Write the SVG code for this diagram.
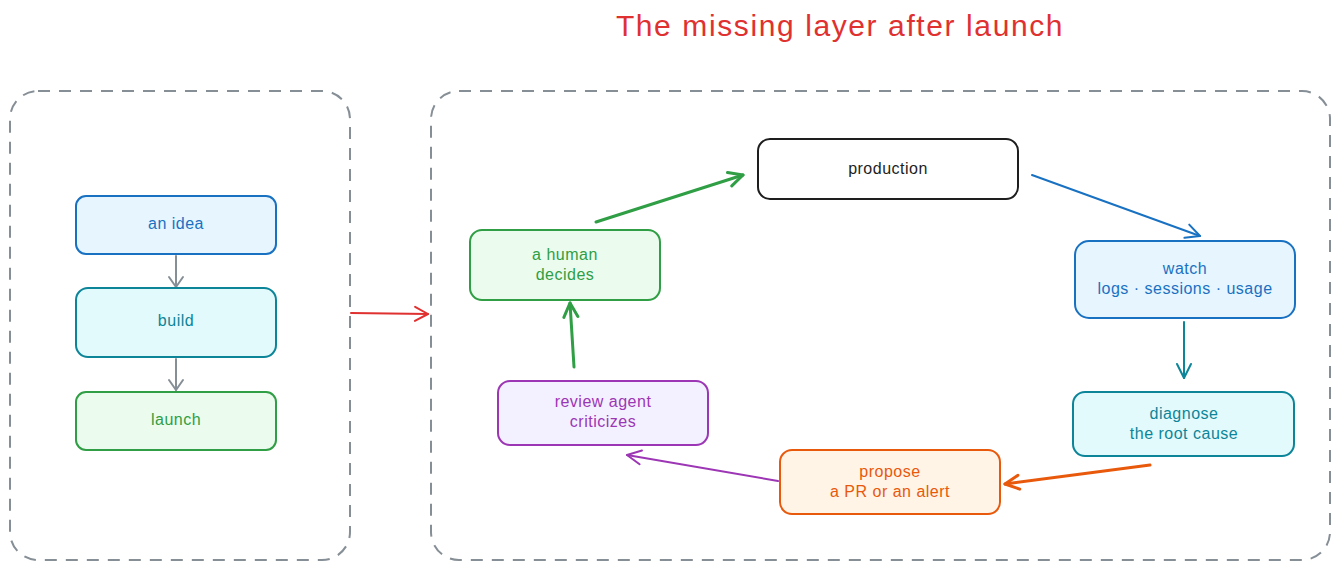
<svg xmlns="http://www.w3.org/2000/svg" width="1340" height="570" viewBox="0 0 1340 570">
<style>
text{font-family:"Liberation Sans",Arial,sans-serif;font-size:16px;letter-spacing:0.5px;text-anchor:middle;dominant-baseline:middle}
.box{stroke-width:2}
.frame{fill:none;stroke:#868e96;stroke-width:2;stroke-dasharray:12 9}
.c{fill:none;stroke-linecap:round}
</style>
<defs>
<marker id="mGray" viewBox="-16 -9 18 18" refX="0" refY="0" markerWidth="18" markerHeight="18" markerUnits="userSpaceOnUse" orient="auto"><path d="M-10,-7 L0,0 L-10,7" fill="none" stroke="#868e96" stroke-width="2" stroke-linecap="round" stroke-linejoin="round"/></marker>
<marker id="mRed" viewBox="-16 -9 18 18" refX="0" refY="0" markerWidth="18" markerHeight="18" markerUnits="userSpaceOnUse" orient="auto"><path d="M-13,-7 L0,0 L-13,7" fill="none" stroke="#e03131" stroke-width="2" stroke-linecap="round" stroke-linejoin="round"/></marker>
<marker id="mGreen" viewBox="-16 -9 18 18" refX="0" refY="0" markerWidth="18" markerHeight="18" markerUnits="userSpaceOnUse" orient="auto"><path d="M-14,-7 L0,0 L-14,7" fill="none" stroke="#2f9e44" stroke-width="3" stroke-linecap="round" stroke-linejoin="round"/></marker>
<marker id="mBlue" viewBox="-16 -9 18 18" refX="0" refY="0" markerWidth="18" markerHeight="18" markerUnits="userSpaceOnUse" orient="auto"><path d="M-14,-7 L0,0 L-14,7" fill="none" stroke="#1971c2" stroke-width="2" stroke-linecap="round" stroke-linejoin="round"/></marker>
<marker id="mTeal" viewBox="-16 -9 18 18" refX="0" refY="0" markerWidth="18" markerHeight="18" markerUnits="userSpaceOnUse" orient="auto"><path d="M-14,-7 L0,0 L-14,7" fill="none" stroke="#0c8599" stroke-width="2" stroke-linecap="round" stroke-linejoin="round"/></marker>
<marker id="mOrange" viewBox="-16 -9 18 18" refX="0" refY="0" markerWidth="18" markerHeight="18" markerUnits="userSpaceOnUse" orient="auto"><path d="M-14,-7 L0,0 L-14,7" fill="none" stroke="#e8590c" stroke-width="3" stroke-linecap="round" stroke-linejoin="round"/></marker>
<marker id="mPurple" viewBox="-16 -9 18 18" refX="0" refY="0" markerWidth="18" markerHeight="18" markerUnits="userSpaceOnUse" orient="auto"><path d="M-14,-7 L0,0 L-14,7" fill="none" stroke="#9c36b5" stroke-width="2" stroke-linecap="round" stroke-linejoin="round"/></marker>
</defs>
<rect width="1340" height="570" fill="#ffffff"/>
<text x="840" y="28" style="font-size:30px;letter-spacing:1.6px;fill:#e03131">The missing layer after launch</text>
<g id="frames">
<rect class="frame" x="10" y="91" width="340" height="469" rx="28"/>
<rect class="frame" x="431" y="91" width="899" height="469" rx="28"/>
</g>
<g id="connectors">
<line class="c" x1="176" y1="256" x2="176" y2="287" stroke="#868e96" stroke-width="2" marker-end="url(#mGray)"/>
<line class="c" x1="176" y1="359" x2="176" y2="390" stroke="#868e96" stroke-width="2" marker-end="url(#mGray)"/>
<line class="c" x1="351" y1="313" x2="428" y2="314" stroke="#e03131" stroke-width="2" marker-end="url(#mRed)"/>
<line class="c" x1="596" y1="222" x2="743" y2="175" stroke="#2f9e44" stroke-width="3" marker-end="url(#mGreen)"/>
<line class="c" x1="1032" y1="175" x2="1200" y2="236" stroke="#1971c2" stroke-width="2" marker-end="url(#mBlue)"/>
<line class="c" x1="1184" y1="322" x2="1184" y2="378" stroke="#0c8599" stroke-width="2" marker-end="url(#mTeal)"/>
<line class="c" x1="1150" y1="465" x2="1005" y2="484" stroke="#e8590c" stroke-width="3" marker-end="url(#mOrange)"/>
<line class="c" x1="778" y1="481" x2="627" y2="455" stroke="#9c36b5" stroke-width="2" marker-end="url(#mPurple)"/>
<line class="c" x1="574" y1="367" x2="570" y2="303" stroke="#2f9e44" stroke-width="3" marker-end="url(#mGreen)"/>
</g>
<g id="idea">
<rect class="box" x="76" y="196" width="200" height="58" rx="10" fill="#e7f5ff" stroke="#1971c2"/>
<text x="176" y="225" fill="#1971c2">an idea</text>
</g>
<g id="build">
<rect class="box" x="76" y="288" width="200" height="69" rx="12" fill="#e3fafc" stroke="#0c8599"/>
<text x="176" y="322" fill="#0c8599">build</text>
</g>
<g id="launch">
<rect class="box" x="76" y="392" width="200" height="58" rx="10" fill="#ebfbee" stroke="#2f9e44"/>
<text x="176" y="421" fill="#2f9e44">launch</text>
</g>
<g id="production">
<rect class="box" x="758" y="139" width="260" height="60" rx="12" fill="#ffffff" stroke="#1e1e1e"/>
<text x="888" y="170" fill="#1e1e1e">production</text>
</g>
<g id="watch">
<rect class="box" x="1075" y="241" width="220" height="77" rx="14" fill="#e7f5ff" stroke="#1971c2"/>
<text x="1185" y="270" fill="#1971c2">watch</text>
<text x="1185" y="290" fill="#1971c2">logs · sessions · usage</text>
</g>
<g id="diagnose">
<rect class="box" x="1073" y="392" width="221" height="64" rx="12" fill="#e3fafc" stroke="#0c8599"/>
<text x="1184" y="415" fill="#0c8599">diagnose</text>
<text x="1184" y="435" fill="#0c8599">the root cause</text>
</g>
<g id="propose">
<rect class="box" x="780" y="450" width="220" height="64" rx="12" fill="#fff4e6" stroke="#e8590c"/>
<text x="890" y="473" fill="#e8590c">propose</text>
<text x="890" y="493" fill="#e8590c">a PR or an alert</text>
</g>
<g id="review">
<rect class="box" x="498" y="381" width="210" height="64" rx="12" fill="#f3f0ff" stroke="#9c36b5"/>
<text x="603" y="403" fill="#9c36b5">review agent</text>
<text x="603" y="423" fill="#9c36b5">criticizes</text>
</g>
<g id="human">
<rect class="box" x="470" y="230" width="190" height="70" rx="12" fill="#ebfbee" stroke="#2f9e44"/>
<text x="565" y="256" fill="#2f9e44">a human</text>
<text x="565" y="276" fill="#2f9e44">decides</text>
</g>
</svg>
